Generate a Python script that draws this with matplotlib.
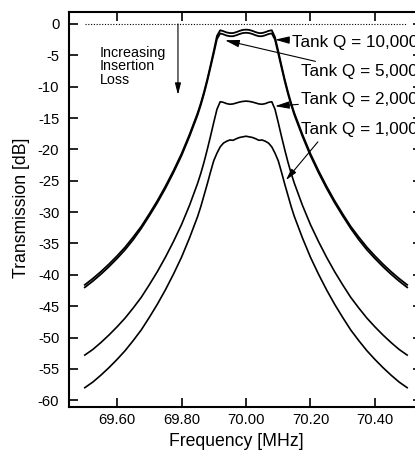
import matplotlib
matplotlib.use("Agg")
import matplotlib.pyplot as plt

plt.rcParams['font.family'] = ['Liberation Sans', 'DejaVu Sans']
plt.rcParams['axes.unicode_minus'] = False

# Frequency grid [MHz]
freq = [69.500, 69.525, 69.550, 69.575, 69.600, 69.625, 69.650, 69.675, 69.700, 69.725,
        69.750, 69.775, 69.800, 69.825, 69.850, 69.860, 69.870, 69.880, 69.890, 69.900,
        69.910,
        69.92, 69.93, 69.94, 69.95, 69.96, 69.97, 69.98, 69.99, 70.00, 70.01,
        70.02, 70.03, 70.04, 70.05, 70.06, 70.07, 70.08,
        70.090, 70.100, 70.110, 70.120, 70.130, 70.140, 70.150, 70.175, 70.200, 70.225,
        70.250, 70.275, 70.300, 70.325, 70.350, 70.375, 70.400, 70.425, 70.450, 70.475,
        70.500]

# Transmission [dB] for each tank Q
q10000 = [-41.6, -40.6, -39.5, -38.3, -37.0, -35.6, -34.0, -32.3, -30.3, -28.2,
          -25.9, -23.4, -20.7, -17.6, -14.2, -12.6, -10.8, -8.8, -6.6, -4.3,
          -1.9,
          -1.0, -1.15, -1.35, -1.45, -1.45, -1.3, -1.1, -0.95, -0.9, -0.95,
          -1.1, -1.3, -1.45, -1.45, -1.3, -1.1, -1.0,
          -2.1, -4.3, -6.6, -8.8, -10.8, -12.6, -14.2, -17.6, -20.7, -23.4,
          -25.9, -28.2, -30.3, -32.3, -34.0, -35.6, -37.0, -38.3, -39.5, -40.6,
          -41.6]
q5000 = [-42.0, -41.0, -39.9, -38.7, -37.4, -36.0, -34.4, -32.6, -30.6, -28.5,
         -26.2, -23.7, -21.0, -17.9, -14.5, -12.9, -11.1, -9.1, -6.9, -4.7,
         -2.4,
         -1.5, -1.65, -1.85, -1.95, -1.95, -1.8, -1.6, -1.45, -1.4, -1.45,
         -1.6, -1.8, -1.95, -1.95, -1.8, -1.6, -1.5,
         -2.5, -4.7, -6.9, -9.1, -11.1, -12.9, -14.5, -17.9, -21.0, -23.7,
         -26.2, -28.5, -30.6, -32.6, -34.4, -36.0, -37.4, -38.7, -39.9, -41.0,
         -42.0]
q2000 = [-52.8, -51.9, -50.8, -49.6, -48.3, -46.9, -45.3, -43.6, -41.6, -39.5,
         -37.2, -34.7, -32.0, -28.9, -25.4, -23.8, -22.0, -20.0, -17.9, -15.7,
         -13.6,
         -12.4, -12.5, -12.7, -12.8, -12.75, -12.6, -12.45, -12.35, -12.3, -12.35,
         -12.45, -12.6, -12.75, -12.8, -12.7, -12.5, -12.4,
         -13.6, -15.7, -17.9, -20.0, -22.0, -23.8, -25.4, -28.9, -32.0, -34.7,
         -37.2, -39.5, -41.6, -43.6, -45.3, -46.9, -48.3, -49.6, -50.8, -51.9,
         -52.8]
q1000 = [-58.0, -57.1, -56.0, -54.8, -53.5, -52.1, -50.5, -48.8, -46.8, -44.7,
         -42.4, -39.9, -37.2, -34.1, -30.7, -29.1, -27.3, -25.5, -23.6, -21.8,
         -20.6,
         -19.6, -19.0, -18.7, -18.5, -18.55, -18.3, -18.1, -18.0, -17.9, -18.0,
         -18.1, -18.3, -18.55, -18.5, -18.7, -19.0, -19.6,
         -20.6, -21.8, -23.6, -25.5, -27.3, -29.1, -30.7, -34.1, -37.2, -39.9,
         -42.4, -44.7, -46.8, -48.8, -50.5, -52.1, -53.5, -54.8, -56.0, -57.1,
         -58.0]

xticks = [69.60, 69.80, 70.00, 70.20, 70.40]
xticklabels = ["69.60", "69.80", "70.00", "70.20", "70.40"]
yticks = list(range(0, -65, -5))

fig = plt.figure(figsize=(4.15, 4.5), dpi=100)
ax = fig.add_axes([69/415, 43/450, 353/415, 395/450])

for vals, lw in [(q10000, 1.3), (q5000, 1.3), (q2000, 1.2), (q1000, 1.2)]:
    ax.plot(freq, vals, color='black', lw=lw, solid_joinstyle='round')

ax.plot([freq[0], freq[-1]], [0, 0], color='black', lw=0.8, ls=(0, (1, 1.5)))

ax.set_xlim(69.451, 70.546)
ax.set_ylim(-61.08, 1.91)

ax.set_xticks(xticks)
ax.set_xticklabels(xticklabels)
ax.set_yticks(yticks)
ax.set_yticklabels([str(v) for v in yticks])

ax.tick_params(axis='both', direction='in', length=6.8, width=1.2,
               labelsize=10.6, colors='black')
ax.tick_params(axis='x', top=True, pad=4)
ax.tick_params(axis='y', right=True, pad=7)

for s in ['left', 'top', 'bottom', 'right']:
    ax.spines[s].set_linewidth(1.5)

fig.text(236/415, 1 - 441/450, "Frequency [MHz]", ha='center', va='center', fontsize=12.7)
fig.text(22/415, 1 - 208/450, "Transmission [dB]", ha='center', va='center',
         rotation=90, fontsize=12.7)

# Increasing insertion loss arrow
ap = dict(arrowstyle='-|>,head_length=0.7,head_width=0.18', color='black',
          lw=0.8, shrinkA=0, shrinkB=0)
ax.annotate("", xy=(69.789, -11.3), xytext=(69.789, 0.0), arrowprops=ap)
ax.text(69.547, -3.5, "Increasing\nInsertion\nLoss", fontsize=10.3,
        ha='left', va='top', linespacing=0.95)

ax.annotate("Tank Q = 10,000", xy=(70.09, -2.5), xytext=(70.143, -2.9),
            fontsize=12.3, va='center', ha='left', arrowprops=ap, annotation_clip=False)
ax.annotate("Tank Q = 5,000", xy=(69.935, -2.6), xytext=(70.171, -7.6),
            fontsize=12.3, va='center', ha='left', arrowprops=ap, annotation_clip=False)
ax.annotate("Tank Q = 2,000", xy=(70.09, -13.1), xytext=(70.171, -12.1),
            fontsize=12.3, va='center', ha='left', arrowprops=ap, annotation_clip=False)
ax.text(70.171, -16.9, "Tank Q = 1,000", fontsize=12.3, va='center', ha='left')
ax.annotate("", xy=(70.124, -24.9), xytext=(70.223, -18.8), arrowprops=ap)

fig.savefig("out.png", dpi=100)
